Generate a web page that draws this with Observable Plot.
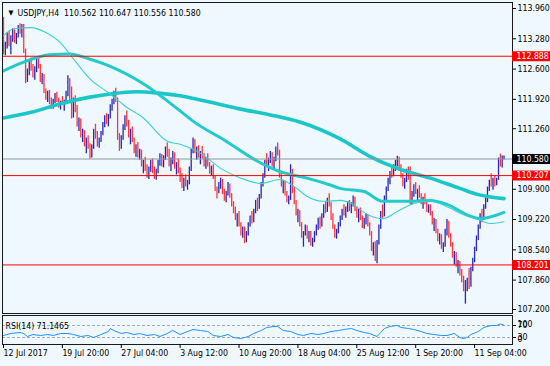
<!DOCTYPE html>
<html><head><meta charset="utf-8">
<script src="https://cdn.jsdelivr.net/npm/d3@7"></script>
<script src="https://cdn.jsdelivr.net/npm/@observablehq/plot@0.6"></script>
<style>
html,body{margin:0;padding:0;background:#F0F8FF;}
#chart{position:relative;width:550px;height:366px;overflow:hidden;background:#F0F8FF;}
#chart svg{position:absolute;left:0;}
</style></head><body><div id="chart"></div>
<script>
// ---- header ----
const symbolName = "USDJPY,H4";
const lastOHLC = [110.562, 110.647, 110.556, 110.580];
const rsiTitle = "RSI(14) 71.1465";

// ---- price bars (H4), open = previous close ----
const firstOpen = 113.60;
const barHigh = [113.76,113.20,113.42,113.45,113.35,113.50,113.48,113.40,113.58,113.62,113.60,113.60,113.05,112.60,112.78,112.85,112.70,112.65,112.82,112.86,
112.70,112.50,112.48,112.15,112.10,112.12,111.95,111.92,112.05,112.08,111.95,111.88,111.98,111.90,112.10,112.45,112.38,112.20,111.95,112.00,
111.78,111.50,111.48,111.25,111.22,111.05,111.10,110.92,110.90,111.25,111.36,111.20,111.05,111.20,111.40,111.55,111.60,111.58,111.80,111.92,
112.10,112.17,111.95,111.15,111.10,111.35,111.55,111.66,111.45,111.25,111.30,111.05,110.90,110.95,110.80,110.78,110.55,110.62,110.45,110.40,
110.55,110.58,110.40,110.35,110.55,110.70,110.68,110.65,110.85,110.94,110.80,110.60,110.75,110.72,110.50,110.58,110.38,110.25,110.15,110.22,
110.10,110.40,110.80,111.05,111.02,110.85,110.88,110.75,110.86,110.70,110.62,110.70,110.50,110.42,110.45,110.20,109.95,110.05,110.15,110.12,
109.90,109.85,110.05,110.02,109.80,109.62,109.50,109.35,109.40,109.15,109.05,109.05,108.95,109.15,109.30,109.40,109.45,109.65,109.70,109.78,
110.05,110.25,110.55,110.70,110.60,110.75,110.72,110.62,110.85,110.94,110.78,110.30,110.10,110.08,109.85,109.75,110.45,110.35,109.95,109.65,
109.45,109.42,109.15,108.95,109.10,109.08,108.95,108.95,108.80,108.95,109.10,109.25,109.28,109.35,109.55,109.62,109.70,109.80,109.60,109.35,
109.10,109.00,109.15,109.30,109.45,109.55,109.50,109.62,109.65,109.60,109.75,109.72,109.50,109.45,109.48,109.30,109.25,109.35,109.32,109.15,
108.95,108.70,108.72,108.75,109.10,109.40,109.55,109.75,109.95,110.15,110.30,110.40,110.45,110.55,110.64,110.62,110.45,110.25,110.15,110.35,
110.40,110.40,109.85,110.00,110.05,109.90,109.98,109.80,109.72,109.80,109.65,109.55,109.55,109.40,109.25,109.22,109.00,108.90,108.88,108.70,
109.00,109.22,109.18,108.90,108.70,108.50,108.48,108.30,108.28,108.10,107.95,107.85,107.90,108.12,108.15,108.35,108.60,108.85,109.10,109.35,
109.45,109.55,109.70,109.95,110.10,110.25,110.15,110.20,110.15,110.60,110.69,110.65,110.647];
const barLow = [112.92,112.90,113.05,113.10,112.92,113.20,113.18,113.15,113.30,113.38,113.30,112.95,112.27,112.30,112.45,112.55,112.40,112.35,112.52,112.60,
112.30,112.25,112.05,111.90,111.85,111.80,111.70,111.70,111.82,111.85,111.72,111.68,111.78,111.65,111.80,111.98,111.90,111.48,111.50,111.62,
111.30,111.20,111.05,110.95,110.85,110.70,110.80,110.58,110.60,110.80,111.02,110.85,110.82,110.95,111.10,111.28,111.35,111.30,111.48,111.65,
111.80,111.85,111.00,110.75,110.80,111.00,111.22,111.30,111.05,110.90,110.95,110.70,110.62,110.60,110.55,110.40,110.25,110.30,110.15,110.12,
110.28,110.25,110.12,110.10,110.25,110.42,110.40,110.38,110.55,110.62,110.40,110.30,110.45,110.35,110.22,110.25,110.05,109.92,109.85,109.95,
109.88,110.00,110.30,110.70,110.70,110.55,110.60,110.45,110.58,110.40,110.35,110.40,110.24,110.20,110.12,109.85,109.68,109.80,109.90,109.78,
109.63,109.60,109.75,109.70,109.50,109.35,109.20,109.05,109.05,108.85,108.80,108.68,108.70,108.85,109.05,109.12,109.15,109.35,109.40,109.45,
109.68,109.95,110.15,110.40,110.30,110.48,110.40,110.35,110.52,110.65,110.15,109.95,109.80,109.75,109.60,109.55,109.65,109.80,109.55,109.30,
109.15,109.05,108.80,108.60,108.85,108.78,108.70,108.62,108.60,108.70,108.85,108.98,109.00,109.05,109.25,109.35,109.38,109.50,109.20,109.00,
108.80,108.78,108.90,109.05,109.20,109.30,109.25,109.38,109.40,109.35,109.50,109.40,109.25,109.15,109.20,109.02,109.00,109.10,109.05,108.85,
108.50,108.40,108.28,108.23,108.65,109.00,109.25,109.28,109.65,109.85,110.00,110.15,110.18,110.30,110.40,110.30,110.15,109.95,109.90,110.05,
110.10,109.55,109.55,109.72,109.78,109.60,109.70,109.55,109.45,109.55,109.38,109.36,109.30,109.10,108.95,108.90,108.72,108.65,108.55,108.48,
108.60,108.85,108.80,108.60,108.35,108.20,108.15,108.00,107.95,107.80,107.60,107.32,107.60,107.65,107.70,108.05,108.25,108.50,108.75,109.00,
109.15,109.20,109.45,109.60,109.85,109.95,109.88,109.95,109.98,110.10,110.40,110.38,110.556];
const barClose = [112.98,113.15,113.38,113.22,113.30,113.44,113.25,113.36,113.52,113.45,113.55,113.02,112.35,112.55,112.72,112.62,112.48,112.60,112.78,112.66,
112.38,112.45,112.12,111.98,112.05,111.86,111.78,111.88,112.00,111.90,111.76,111.84,111.82,111.86,112.05,112.30,111.98,111.55,111.88,111.70,
111.38,111.42,111.10,111.15,110.90,110.98,110.85,110.65,110.84,111.18,111.10,110.92,111.00,111.15,111.35,111.50,111.42,111.52,111.75,111.85,
112.02,111.92,111.05,110.85,111.05,111.30,111.48,111.38,111.12,111.20,111.00,110.78,110.85,110.68,110.72,110.45,110.50,110.35,110.22,110.35,
110.50,110.30,110.18,110.30,110.50,110.65,110.48,110.60,110.80,110.70,110.45,110.55,110.70,110.40,110.45,110.30,110.12,110.00,110.10,110.02,
110.05,110.35,110.75,110.98,110.78,110.80,110.66,110.70,110.62,110.48,110.58,110.45,110.30,110.38,110.18,109.90,109.88,110.00,110.10,109.82,
109.70,109.80,110.00,109.75,109.55,109.40,109.25,109.30,109.10,108.90,109.00,108.75,108.90,109.10,109.25,109.18,109.40,109.60,109.48,109.72,
110.00,110.20,110.50,110.45,110.55,110.70,110.48,110.58,110.80,110.72,110.20,110.00,110.05,109.80,109.65,109.70,110.30,109.85,109.60,109.35,
109.40,109.10,108.85,108.90,109.05,108.82,108.90,108.68,108.75,108.92,109.05,109.20,109.08,109.30,109.50,109.42,109.65,109.55,109.25,109.05,
108.85,108.95,109.10,109.25,109.40,109.35,109.45,109.58,109.45,109.55,109.70,109.45,109.30,109.40,109.25,109.08,109.20,109.30,109.10,108.90,
108.55,108.65,108.35,108.70,109.05,109.35,109.30,109.70,109.90,110.10,110.25,110.20,110.40,110.50,110.60,110.35,110.20,110.00,110.10,110.30,
110.15,109.62,109.80,109.95,109.82,109.85,109.75,109.62,109.68,109.60,109.45,109.50,109.35,109.15,109.20,108.95,108.78,108.85,108.60,108.65,
108.95,109.15,108.85,108.65,108.40,108.45,108.20,108.25,108.00,107.90,107.65,107.75,107.85,107.72,108.10,108.30,108.55,108.80,109.05,109.30,
109.25,109.50,109.65,109.90,110.05,110.00,110.10,110.02,110.12,110.55,110.48,110.562,110.580];

// ---- moving averages: [bar index, price] ----
const maSlow = [[0,111.50],[15,111.63],[31,111.82],[47,111.97],[58,112.04],[72,112.09],[84,112.06],[96,112.00],[112,111.86],[129,111.70],[145,111.57],[161,111.41],[183,111.03],[199,110.64],[214,110.37],[232,110.15],[248,109.92],[258,109.78],[272,109.69]];
const maMid = [[0,112.56],[13,112.79],[25,112.92],[36,112.94],[47,112.82],[58,112.66],[76,112.27],[96,111.66],[103,111.43],[121,110.98],[138,110.53],[150,110.30],[165,110.15],[178,109.99],[183,109.92],[196,109.85],[206,109.63],[223,109.63],[232,109.65],[241,109.56],[254,109.29],[259,109.24],[272,109.38]];
const maFast = [[0,113.35],[6,113.51],[15,113.53],[23,113.42],[31,113.19],[38,112.83],[47,112.38],[58,112.04],[66,111.77],[76,111.50],[89,110.98],[96,110.91],[107,110.71],[118,110.37],[129,110.15],[140,110.03],[150,110.12],[158,109.96],[165,109.74],[174,109.63],[183,109.65],[189,109.58],[198,109.33],[206,109.24],[214,109.40],[223,109.58],[232,109.63],[241,109.51],[250,109.33],[258,109.22],[265,109.13],[272,109.17]];

// ---- levels ----
const redLevels = [112.888, 110.207, 108.201];
const bidLevel = 110.580;
const yTicks = [113.960, 113.280, 112.600, 111.920, 111.260, 109.900, 109.220, 108.540, 107.860, 107.200];

// ---- RSI(14) ----
const rsiBar = [0,4,9,11,13,16,20,24,27,31,35,38,42,46,49,53,57,58,60,64,67,71,74,78,82,85,89,92,96,100,103,107,111,114,118,122,125,129,133,136,140,143,147,149,152,156,160,163,167,171,174,178,182,185,189,192,196,199,203,205,207,210,214,216,220,223,227,230,234,238,241,245,248,250,252,254,258,261,265,268,270,272];
const rsiValue = [36.7,43.3,46.7,43.3,33.3,40.0,36.7,40.0,36.7,43.3,43.3,40.0,33.3,36.7,30.0,40.0,50.0,60.0,53.3,43.3,46.7,40.0,43.3,36.7,40.0,33.3,43.3,53.3,40.0,50.0,56.7,53.3,50.0,36.7,33.3,40.0,30.0,26.7,33.3,43.3,53.3,63.3,66.7,66.7,53.3,50.0,40.0,36.7,43.3,40.0,43.3,50.0,53.3,56.7,60.0,53.3,46.7,43.3,33.3,46.7,60.0,66.7,70.0,63.3,60.0,56.7,50.0,43.3,40.0,36.7,36.7,43.3,30.0,26.7,30.0,40.0,50.0,63.3,70.0,70.0,75.0,71.1];
const rsiLevels = [70, 30];

// ---- time axis ----
const xTickBar = [0, 32, 64, 96, 128, 160, 192, 224, 256];
const xTickLabel = ["12 Jul 2017","19 Jul 20:00","27 Jul 04:00","3 Aug 12:00","10 Aug 20:00","18 Aug 04:00","25 Aug 12:00","1 Sep 20:00","11 Sep 04:00"];

// ---- build ----
const bars = barClose.map((c, i) => ({i, h: barHigh[i], l: barLow[i], o: i ? barClose[i - 1] : firstOpen, c}));
const xDomain = [-0.54, 276.6];
const UP = "#2626b8", DOWN = "#ff3434";
const font = {background: "transparent", color: "#000", fontFamily: "'DejaVu Sans Condensed','DejaVu Sans',sans-serif", fontStretch: "condensed", fontSize: "8.7px"};
const title = symbolName + "  " + lastOHLC.map(v => v.toFixed(3)).join(" ");

const main = Plot.plot({
  width: 550, height: 316,
  marginLeft: 2, marginRight: 38, marginTop: 2, marginBottom: 3,
  x: {domain: xDomain, axis: null},
  y: {domain: [107.11, 114.095], axis: null},
  color: {type: "identity"},
  style: font,
  marks: [
    Plot.ruleX(bars, {x: "i", y1: "l", y2: "h", stroke: d => d.c >= d.o ? UP : DOWN, strokeWidth: 1.3}),
    Plot.line(maSlow, {x: d => d[0], y: d => d[1], stroke: "#19c6c8", strokeWidth: 3.6, curve: "monotone-x"}),
    Plot.line(maMid, {x: d => d[0], y: d => d[1], stroke: "#22cacb", strokeWidth: 3, curve: "monotone-x"}),
    Plot.line(maFast, {x: d => d[0], y: d => d[1], stroke: "#3ad0d2", strokeWidth: 1.1, curve: "monotone-x"}),
    Plot.ruleY([bidLevel], {stroke: "#8c98a4", strokeWidth: 1}),
    Plot.ruleY(redLevels, {stroke: "#ff0000", strokeWidth: 1}),
    Plot.frame({stroke: "#1a1a1a"}),
    Plot.axisY(yTicks, {anchor: "right", tickFormat: d => d.toFixed(3), tickSize: 3, tickPadding: 2, stroke: "#000"}),
    Plot.ruleY(redLevels, {y: d => d, x1: xDomain[1], x2: xDomain[1] + 30, stroke: "#ff0000", strokeWidth: 10}),
    Plot.text(redLevels, {y: d => d, x: xDomain[1], dx: 4, textAnchor: "start", text: d => d.toFixed(3), fill: "#fff"}),
    Plot.ruleY([bidLevel], {y: d => d, x1: xDomain[1], x2: xDomain[1] + 30, stroke: "#000", strokeWidth: 10}),
    Plot.text([bidLevel], {y: d => d, x: xDomain[1], dx: 4, textAnchor: "start", text: d => d.toFixed(3), fill: "#fff"}),
    Plot.text(["▼"], {frameAnchor: "top-left", dx: 6, dy: 7.5, fontSize: 7, textAnchor: "start"}),
    Plot.text([title], {frameAnchor: "top-left", dx: 15, dy: 7.5, textAnchor: "start"})
  ]
});
main.style.top = "0px";

const rsiPts = rsiBar.map((b, k) => [b, rsiValue[k]]);
const rsi = Plot.plot({
  width: 550, height: 52,
  marginLeft: 2, marginRight: 38, marginTop: 1, marginBottom: 22,
  x: {domain: xDomain, axis: null},
  y: {domain: [6.7, 103.3], axis: null},
  style: font,
  marks: [
    Plot.ruleY(rsiLevels, {stroke: "#a9a9a9", strokeDasharray: "3,2"}),
    Plot.line(rsiPts, {x: d => d[0], y: d => d[1], stroke: "#1e90ff", strokeWidth: 1}),
    Plot.frame({stroke: "#1a1a1a"}),
    Plot.axisY(rsiLevels, {anchor: "right", tickSize: 3, tickPadding: 2}),
    Plot.text(["100"], {frameAnchor: "top-right", dx: 5, dy: 5, textAnchor: "start"}),
    Plot.text(["0"], {frameAnchor: "bottom-right", dx: 5, dy: -3, textAnchor: "start"}),
    Plot.axisX(xTickBar, {anchor: "bottom", tickSize: 4, tickPadding: 1, textAnchor: "start", dx: 0, tickFormat: d => xTickLabel[xTickBar.indexOf(d)]}),
    Plot.text([rsiTitle], {frameAnchor: "top-left", dx: 3, dy: 7.5, textAnchor: "start"})
  ]
});
rsi.style.top = "314px";

const el = document.getElementById("chart");
el.appendChild(main);
el.appendChild(rsi);
</script></body></html>
